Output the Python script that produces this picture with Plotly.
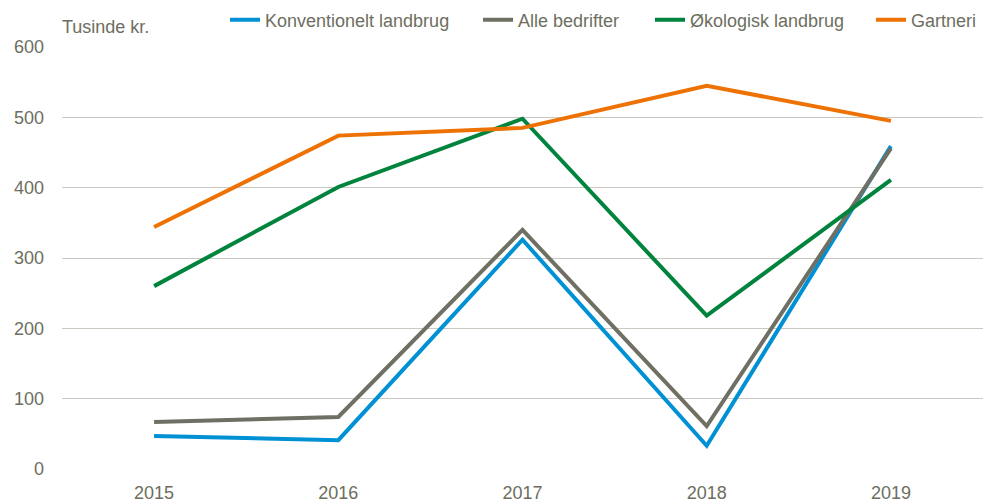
import plotly.graph_objects as go

years = ["2015", "2016", "2017", "2018", "2019"]
konventionelt = [47, 41, 326, 33, 459]
alle = [67, 74, 340, 61, 456]
okologisk = [260, 401, 498, 218, 411]
gartneri = [344, 474, 485, 545, 495]

series = [
    ("Konventionelt landbrug", konventionelt, "#0091D5", "legend", 217),
    ("Alle bedrifter", alle, "#706F63", "legend2", 470),
    ("Økologisk landbrug", okologisk, "#00843D", "legend3", 642),
    ("Gartneri", gartneri, "#EE7203", "legend4", 863),
]

FONT = "Liberation Sans, Arial, sans-serif"
TXT = "#6D6E60"
OFF = 8  # default page body margin
W, H = 992 - OFF, 504 - OFF
ML, MR, MT, MB = 62 - OFF, 9, 47 - OFF, 35
PH = H - MT - MB

fig = go.Figure()
legends = {}
for name, vals, col, lg, lx in series:
    fig.add_trace(go.Scatter(x=years, y=vals, name=name, mode="lines",
                             line=dict(color=col, width=4), legend=lg))
    legends[lg] = dict(orientation="h", xref="container", yref="container",
                       x=lx / W, xanchor="left", y=1 - (20 - OFF) / H, yanchor="middle",
                       font=dict(family=FONT, size=18, color=TXT),
                       bgcolor="rgba(0,0,0,0)")

fig.update_layout(
    width=W, height=H,
    margin=dict(l=ML, r=MR, t=MT, b=MB, autoexpand=False),
    paper_bgcolor="white", plot_bgcolor="white",
    font=dict(family=FONT, size=18, color=TXT),
    showlegend=True,
    xaxis=dict(type="category", showgrid=False, zeroline=False, showline=False,
               ticks="", tickfont=dict(size=18, color=TXT), range=[-0.5, 4.5],
               ticklabelstandoff=11, automargin=False),
    yaxis=dict(range=[0, 600], dtick=100, showgrid=True, gridcolor="#C9C9C1",
               gridwidth=1.3, zeroline=False, showline=False, ticks="",
               tickfont=dict(size=18, color=TXT), ticklabelstandoff=17,
               automargin=False),
    annotations=[dict(text="Tusinde kr.", xref="paper", yref="paper",
                      x=-0.002, y=(H - MB - (27 - OFF)) / PH, xanchor="left", yanchor="middle",
                      showarrow=False, font=dict(family=FONT, size=18, color=TXT))],
    **legends,
)

fig.write_html("out.html")
